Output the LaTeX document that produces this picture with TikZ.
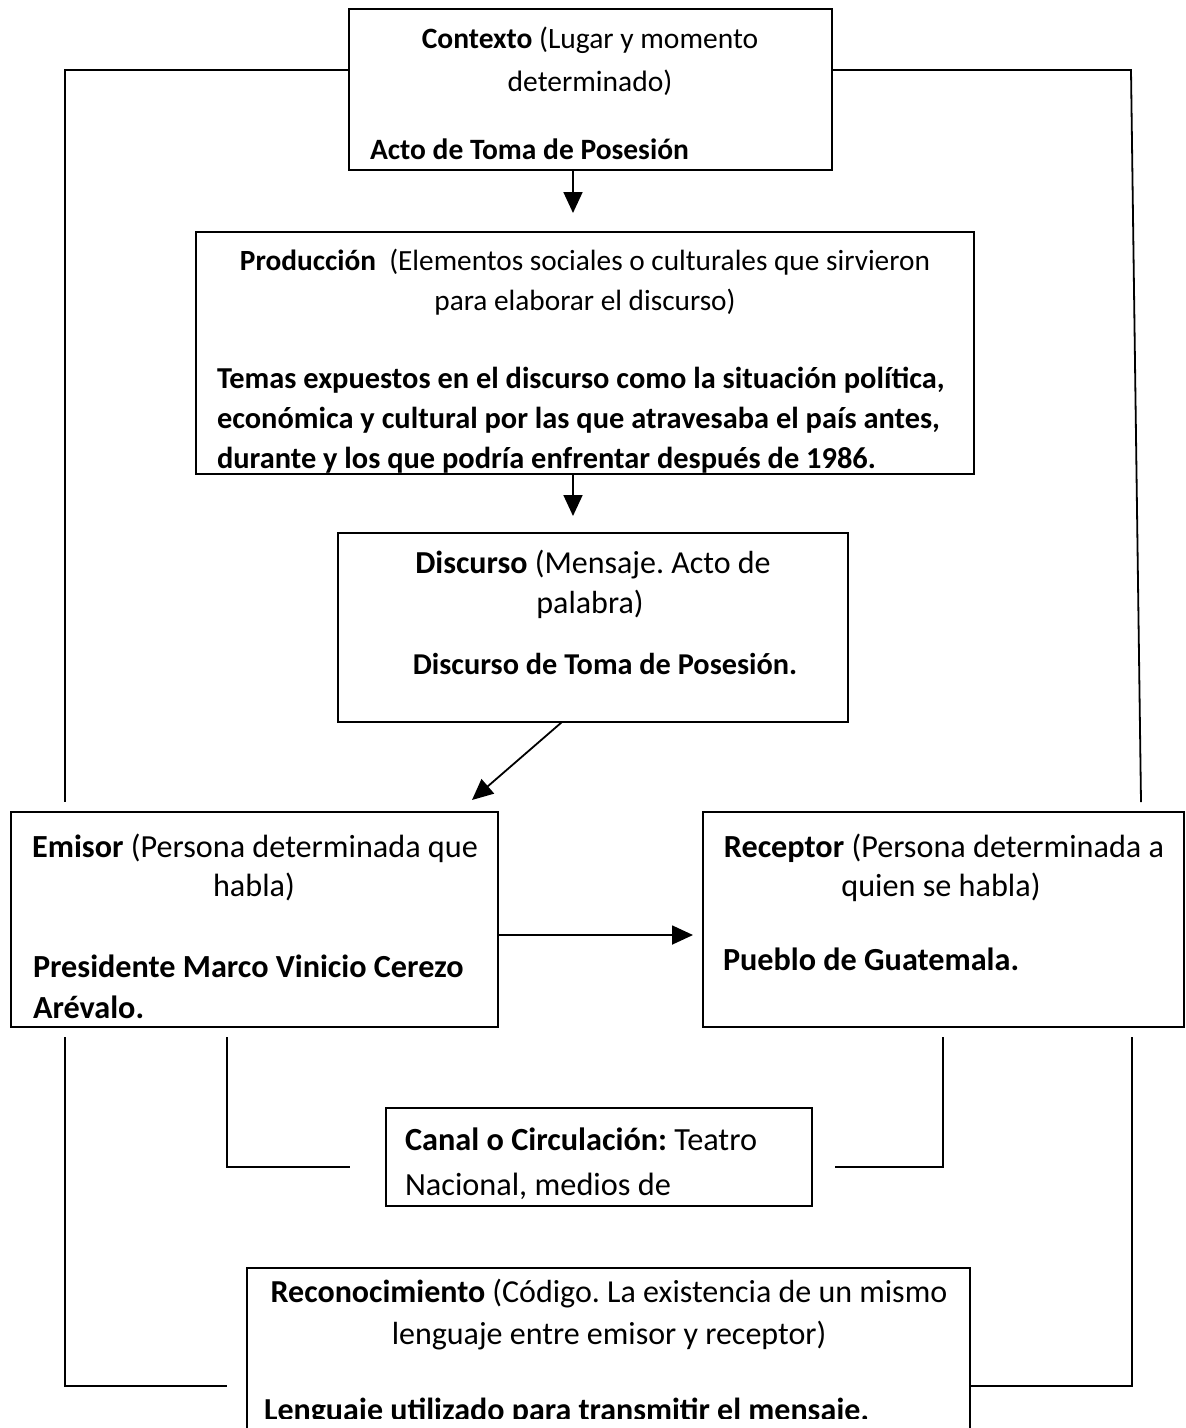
\documentclass[tikz,border=0pt]{standalone}
\usepackage{fontspec}
\setmainfont{Carlito}
\usetikzlibrary{arrows.meta}
\begin{document}
\frenchspacing
\begin{tikzpicture}[x=1pt,y=-1pt,
  box/.style={draw,line width=1.8pt,inner sep=0pt,outer sep=0pt,anchor=north west},
  txt/.style={inner sep=0pt,outer sep=0pt,font=\fontsize{#1}{42}\selectfont},
  ctr/.style={txt=#1,anchor=base},
  lft/.style={txt=#1,anchor=base west},
  conn/.style={line width=1.8pt},
  arr/.style={conn,-{Triangle[length=21pt,width=19pt]}}]
\clip (0,0) rectangle (1186,1428);
\fill[white] (0,0) rectangle (1186,1428);
% boxes
\node[box,minimum width=483pt,minimum height=161pt] (ctx) at (349,9) {};
\node[box,minimum width=778pt,minimum height=242pt] (prod) at (196,232) {};
\node[box,minimum width=510pt,minimum height=189pt] (disc) at (338,533) {};
\node[box,minimum width=487pt,minimum height=215pt] (emi) at (11,812) {};
\node[box,minimum width=481pt,minimum height=215pt] (rec) at (703,812) {};
\node[box,minimum width=426pt,minimum height=98pt] (can) at (386,1108) {};
\node[box,minimum width=723pt,minimum height=180pt] (recon) at (247,1268) {};
% texts
\node[ctr=29.5] (c1) at (590,48) {\textbf{Contexto} (Lugar y momento};
\node[ctr=29.5] (c2) at (590,91) {determinado)};
\node[lft=29.5] (c3) at (370,159) {\textbf{Acto de Toma de Posesión}};
\begin{scope}
\clip (prod.north west) rectangle (prod.south east);
\node[ctr=29.3] (p1) at (585,270) {\textbf{Producción}\ \ (Elementos sociales o culturales que sirvieron};
\node[ctr=29.3] (p2) at (585,310) {para elaborar el discurso)};
\node[lft=30.4] (p3) at (217,388) {\textbf{Temas expuestos en el discurso como la situación política,}};
\node[lft=30.4] (p4) at (217,428) {\textbf{económica y cultural por las que atravesaba el país antes,}};
\node[lft=30.4] (p5) at (217,468) {\textbf{durante y los que podría enfrentar después de 1986.}};
\end{scope}
\node[ctr=32] (d1) at (593,573) {\textbf{Discurso} (Mensaje. Acto de};
\node[ctr=32] (d2) at (590,613) {palabra)};
\node[ctr=30.3] (d3) at (605,674) {\textbf{Discurso de Toma de Posesión.}};
\node[ctr=32.2] (e1) at (255,857) {\textbf{Emisor} (Persona determinada que};
\node[ctr=32.2] (e2) at (254,896) {habla)};
\node[lft=32.2] (e3) at (33,977) {\textbf{Presidente Marco Vinicio Cerezo}};
\node[lft=32.2] (e4) at (33,1018) {\textbf{Arévalo.}};
\node[ctr=32.2] (r1) at (944,857) {\textbf{Receptor} (Persona determinada a};
\node[ctr=32.2] (r2) at (941,896) {quien se habla)};
\node[lft=32.2] (r3) at (723,970) {\textbf{Pueblo de Guatemala.}};
\begin{scope}
\clip (can.north west) rectangle (can.south east);
\node[lft=32.3] (k1) at (405,1150) {\textbf{Canal o Circulación:} Teatro};
\node[lft=32.3] (k2) at (405,1195) {Nacional, medios de};
\end{scope}
\node[ctr=32] (rc1) at (609,1302) {\textbf{Reconocimiento} (Código. La existencia de un mismo};
\node[ctr=32] (rc2) at (609,1344) {lenguaje entre emisor y receptor)};
\begin{scope}
\clip (247,1268) rectangle (970,1418);
\node[lft=32] (rc3) at (264,1420) {\textbf{Lenguaje utilizado para transmitir el mensaje.}};
\end{scope}
% helper coordinates
\coordinate (ax) at (573,0);
\coordinate (y70) at (0,70);
\coordinate (y935) at (0,935);
\coordinate (y1386) at (0,1386);
\coordinate (dstart) at (562,0);
\coordinate (dend) at (472,800);
\coordinate (tlEnd) at (65,802);
\coordinate (trCorner) at (1131,70);
\coordinate (trEnd) at (1141,802);
\coordinate (lo1) at (65,1037);
\coordinate (lo2) at (227,1386);
\coordinate (li1) at (227,1037);
\coordinate (li2) at (350,1167);
\coordinate (ri1) at (943,1037);
\coordinate (ri2) at (835,1167);
\coordinate (ro1) at (1132,1037);
% arrows
\draw[arr,shorten >=19pt] (ctx.south -| ax) -- (prod.north -| ax);
\draw[arr,shorten >=17pt] (prod.south -| ax) -- (disc.north -| ax);
\draw[arr] (disc.south -| dstart) -- (dend);
\draw[arr,shorten >=10pt] (emi.east |- y935) -- (rec.west |- y935);
% connector lines
\draw[conn] (ctx.west |- y70) -| (tlEnd);
\draw[conn] (ctx.east |- y70) -- (trCorner) -- (trEnd);
\draw[conn] (lo1) |- (lo2);
\draw[conn] (li1) |- (li2);
\draw[conn] (ri1) |- (ri2);
\draw[conn] (ro1) |- (recon.east |- y1386);
\end{tikzpicture}
\end{document}
